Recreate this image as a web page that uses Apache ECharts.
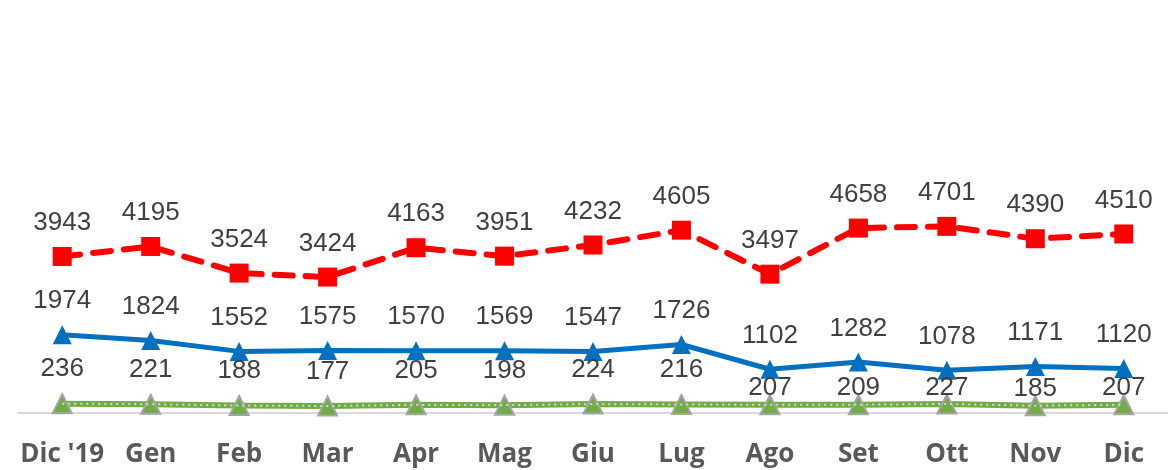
<!DOCTYPE html>
<html>
<head>
<meta charset="utf-8">
<script src="https://cdn.jsdelivr.net/npm/echarts@6/dist/echarts.min.js"></script>
<style>
html,body{margin:0;padding:0;background:#fff;}
#chart{width:1168px;height:470px;}
</style>
</head>
<body>
<div id="chart"></div>
<script>
const categories = ["Dic '19", "Gen", "Feb", "Mar", "Apr", "Mag", "Giu", "Lug", "Ago", "Set", "Ott", "Nov", "Dic"];
const redSeries = [3943, 4195, 3524, 3424, 4163, 3951, 4232, 4605, 3497, 4658, 4701, 4390, 4510];
const blueSeries = [1974, 1824, 1552, 1575, 1570, 1569, 1547, 1726, 1102, 1282, 1078, 1171, 1120];
const greenSeries = [236, 221, 188, 177, 205, 198, 224, 216, 207, 209, 227, 185, 207];

const chart = echarts.init(document.getElementById('chart'), null, {renderer: 'canvas'});
const labelStyle = {
  show: true,
  position: 'top',
  distance: 11,
  color: '#404040',
  fontFamily: 'Liberation Sans, Arial, sans-serif',
  fontSize: 26
};
// Green labels are nudged down where the blue line runs low (as in the source chart)
const greenData = greenSeries.map(function (v, i) {
  if (blueSeries[i] < 1400) {
    return {value: v, label: {offset: [0, 18]}};
  }
  return v;
});
chart.setOption({
  animation: false,
  grid: {left: 18, right: -10, top: 16, bottom: 57, containLabel: false},
  xAxis: {
    type: 'category',
    data: categories,
    boundaryGap: true,
    axisLine: {show: true, lineStyle: {color: '#d9d9d9', width: 2}},
    axisTick: {show: false},
    axisLabel: {
      color: '#595959',
      fontFamily: 'Open Sans, sans-serif',
      fontWeight: 'bold',
      fontSize: 26,
      margin: 29,
      interval: 0
    }
  },
  yAxis: {
    type: 'value',
    min: 0,
    max: 10000,
    show: false,
    splitLine: {show: false}
  },
  series: [
    {
      name: 'blue',
      type: 'line',
      data: blueSeries,
      symbol: 'triangle',
      symbolSize: 19,
      itemStyle: {color: '#0070C0', borderWidth: 0},
      lineStyle: {color: '#0070C0', width: 5},
      label: labelStyle,
      z: 2
    },
    {
      name: 'green',
      type: 'line',
      data: greenData,
      symbol: 'triangle',
      symbolSize: 19,
      itemStyle: {color: '#70AD47', borderColor: '#A5A5A5', borderWidth: 2},
      lineStyle: {color: '#70AD47', width: 6},
      label: labelStyle,
      zlevel: 1,
      z: 2
    },
    {
      name: 'greenDots',
      type: 'line',
      data: greenSeries,
      symbol: 'none',
      lineStyle: {color: '#d3dccd', width: 2, type: [2, 4]},
      silent: true,
      zlevel: 1,
      z: 3
    },
    {
      name: 'red',
      type: 'line',
      data: redSeries,
      symbol: 'rect',
      symbolSize: 19,
      itemStyle: {color: '#FF0000', borderWidth: 0},
      lineStyle: {color: '#FF0000', width: 6, type: [18, 13], cap: 'round'},
      label: labelStyle,
      z: 5
    }
  ]
});
</script>
</body>
</html>
